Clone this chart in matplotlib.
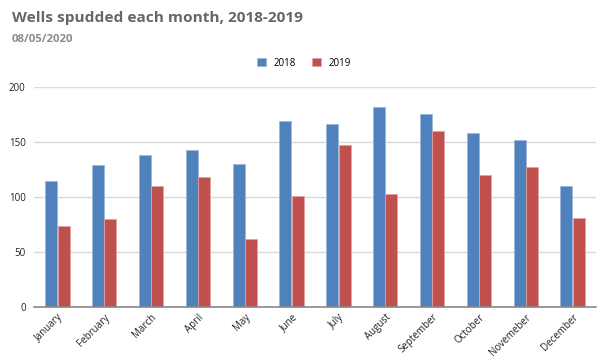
import numpy as np
import matplotlib.pyplot as plt

months = ["January", "February", "March", "April", "May", "June", "July",
          "August", "September", "October", "Novemeber", "December"]
wells_2018 = [115, 129, 138, 143, 130, 169, 166, 182, 175, 158, 152, 110]
wells_2019 = [74, 80, 110, 118, 62, 101, 147, 103, 160, 120, 127, 81]

plt.rcParams['font.family'] = ['Open Sans', 'DejaVu Sans']

fig = plt.figure(figsize=(6.03, 3.64), dpi=100)
ax = fig.add_axes([34/603, 1-307/364, 562/603, 220/364])

x = np.arange(len(months))
w = 0.255
ax.bar(x - w/2 - 0.005, wells_2018, w, color="#4F81BD", edgecolor="#9DB7DA", linewidth=0.6, label="2018")
ax.bar(x + w/2 + 0.005, wells_2019, w, color="#C0504D", edgecolor="#E0A3A1", linewidth=0.6, label="2019")

ax.set_xlim(-0.5, 11.5)
ax.set_ylim(0, 200)
ax.set_yticks([0, 50, 100, 150, 200])
ax.yaxis.grid(True, color="#D9D9D9", linewidth=1)
ax.set_axisbelow(True)
for s in ["top", "right", "left"]:
    ax.spines[s].set_visible(False)
ax.spines["bottom"].set_color("#888888")
ax.spines["bottom"].set_linewidth(1.2)
ax.tick_params(axis="both", length=0, labelsize=7, colors="#222222")
ax.tick_params(axis="y", pad=6)
ax.set_xticks(x)
ax.set_xticklabels(months, rotation=45, ha="right", rotation_mode="anchor")

fig.text(12/603, 1-18/364, "Wells spudded each month, 2018-2019", fontsize=11.1,
         fontweight="bold", color="#666666", va="center")
fig.text(12/603, 1-40/364, "08/05/2020", fontsize=8.2, fontweight="bold",
         color="#8C8C8C", va="center")
fig.legend(loc="center", bbox_to_anchor=(304/603, 1-63/364), ncol=2, frameon=False,
           fontsize=7, handlelength=0.9, handleheight=0.9, columnspacing=1.6)

fig.savefig("out.png", dpi=100)
